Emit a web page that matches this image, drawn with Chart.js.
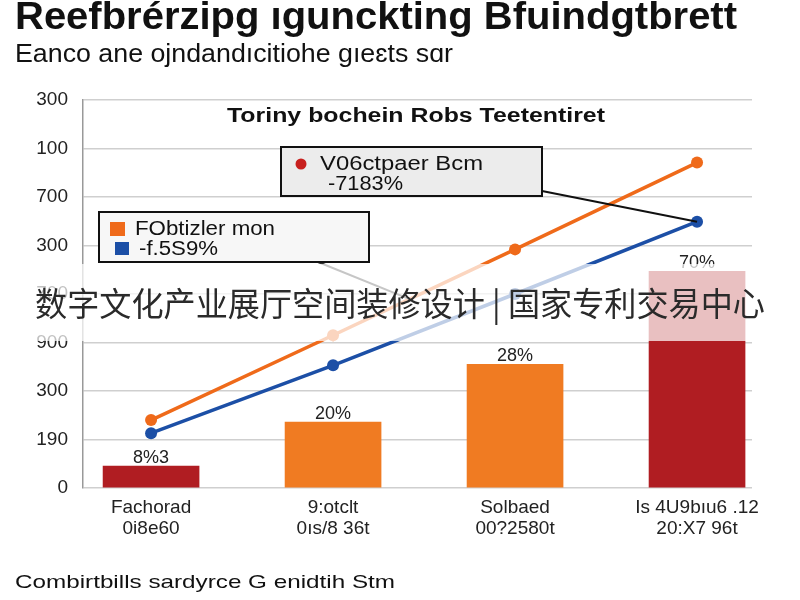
<!DOCTYPE html>
<html><head><meta charset="utf-8">
<script src="https://cdn.jsdelivr.net/npm/chart.js@4.4.0/dist/chart.umd.min.js"></script>
<style>html,body{margin:0;padding:0;background:#fff;}#wrap{width:800px;height:600px;position:relative;}</style>
</head><body><div id="wrap"><canvas id="c" width="800" height="600"></canvas></div>
<script>
const titleText = "Reefbrérzipg ıgunckting Bfuindgtbrett";
const subtitleText = "Eanco ane ojndandıcitiohe gıeɛts sɑr";
const innerTitle = "Toriny bochein Robs Teetentiret";
const captionText = "Combirtbills sardyrce G enidtih Stm";
const watermarkText = "数字文化产业展厅空间装修设计 | 国家专利交易中心";
const categories = [["Fachorad","0i8e60"],["9:otclt","0ıs/8 36t"],["Solbaed","00?2580t"],["Is 4U9bıu6 .12","20:X7 96t"]];
const barValues = [45, 136, 255, 447];
const barLabels = ["8%3","20%","28%","70%"];
const orangeValues = [140, 315, 492, 671];
const blueValues = [113, 253, 400, 549];
const yTickLabels = ['0','190','300','900','700','300','700','100','300'];
const box1Lines = ["FObtizler mon","-f.5S9%"];
const box2Lines = ["V06ctpaer Bcm","-7183%"];

const RED = '#b01d22', ORANGE_BAR = '#f07b22', ORANGE = '#ef6a1a', BLUE = '#1c4fa6';
const FONT = '"Liberation Sans", Arial, sans-serif';

const toXY = arr => arr.map((v, i) => ({x: i, y: v}));

// draw text stretched/compressed to an exact width (left aligned at x)
function fitText(ctx, text, x, y, width) {
  const w = ctx.measureText(text).width;
  ctx.save();
  ctx.textAlign = 'left';
  ctx.translate(x, y);
  ctx.scale(width / w, 1);
  ctx.fillText(text, 0, 0);
  ctx.restore();
}

const decor = {
  id: 'decor',
  afterDatasetsDraw(chart) {
    const ctx = chart.ctx;
    ctx.save();
    // bar labels
    const barMeta = chart.getDatasetMeta(2);
    ctx.font = '18px ' + FONT;
    ctx.fillStyle = '#222'; ctx.textAlign = 'center'; ctx.textBaseline = 'alphabetic';
    barMeta.data.forEach((el, i) => ctx.fillText(barLabels[i], el.x, el.y - 3));
    // connectors
    const bl = chart.getDatasetMeta(1).data[3];
    ctx.strokeStyle = '#111'; ctx.lineWidth = 2;
    ctx.beginPath(); ctx.moveTo(542, 191); ctx.lineTo(bl.x, bl.y); ctx.stroke();
    const om = chart.getDatasetMeta(0).data;
    const a = om[1], b = om[2];
    const tx = a.x + (b.x - a.x) * 0.42, ty = a.y + (b.y - a.y) * 0.42;
    ctx.strokeStyle = '#333';
    ctx.beginPath(); ctx.moveTo(318, 262); ctx.lineTo(tx, ty); ctx.stroke();
    // box 1
    ctx.fillStyle = '#f7f7f7'; ctx.fillRect(99, 212, 270, 50);
    ctx.strokeStyle = '#111'; ctx.lineWidth = 2; ctx.strokeRect(99, 212, 270, 50);
    ctx.fillStyle = ORANGE; ctx.fillRect(110, 222, 15, 14);
    ctx.fillStyle = BLUE; ctx.fillRect(115, 242, 14, 13);
    ctx.fillStyle = '#111'; ctx.textBaseline = 'middle';
    ctx.font = '20px ' + FONT;
    fitText(ctx, box1Lines[0], 135, 229, 140);
    fitText(ctx, box1Lines[1], 139, 249, 79);
    // box 2
    ctx.fillStyle = '#ececec'; ctx.fillRect(281, 147, 261, 49);
    ctx.strokeStyle = '#111'; ctx.strokeRect(281, 147, 261, 49);
    ctx.fillStyle = '#c8201e';
    ctx.beginPath(); ctx.arc(301, 164, 5.5, 0, Math.PI * 2); ctx.fill();
    ctx.fillStyle = '#111';
    fitText(ctx, box2Lines[0], 320, 164, 163);
    fitText(ctx, box2Lines[1], 328, 184, 75);
    ctx.restore();
  },
  afterDraw(chart) {
    const ctx = chart.ctx;
    ctx.save();
    // watermark band
    ctx.fillStyle = 'rgba(255,255,255,0.72)';
    ctx.fillRect(0, 264, 800, 77);
    ctx.fillStyle = '#2a2a2a'; ctx.textAlign = 'center'; ctx.textBaseline = 'middle';
    ctx.font = '33px "Noto Sans CJK SC", sans-serif';
    ctx.fillText(watermarkText, 400, 303, 730);
    // titles
    ctx.fillStyle = '#111';
    ctx.font = 'bold 38px ' + FONT;
    fitText(ctx, titleText, 15, 19, 722);
    ctx.font = '25px ' + FONT;
    fitText(ctx, subtitleText, 15, 55, 438);
    ctx.font = 'bold 20px ' + FONT;
    fitText(ctx, innerTitle, 227, 116, 378);
    ctx.font = '19px ' + FONT;
    fitText(ctx, captionText, 15, 583, 380);
    ctx.restore();
  }
};

new Chart(document.getElementById('c'), {
  type: 'bar',
  data: {
    datasets: [
      { type: 'line', label: 'orange', data: toXY(orangeValues), borderColor: ORANGE, backgroundColor: ORANGE,
        borderWidth: 3.5, pointRadius: 6, pointBackgroundColor: ORANGE, pointBorderWidth: 0, tension: 0, order: 0 },
      { type: 'line', label: 'blue', data: toXY(blueValues), borderColor: BLUE, backgroundColor: BLUE,
        borderWidth: 3.5, pointRadius: 6, pointBackgroundColor: BLUE, pointBorderWidth: 0, tension: 0, order: 0 },
      { type: 'bar', label: 'bars', data: toXY(barValues), backgroundColor: [RED, ORANGE_BAR, ORANGE_BAR, RED],
        barThickness: 96, order: 1 }
    ]
  },
  options: {
    responsive: false, animation: false,
    layout: { padding: { top: 100, right: 48, left: 0, bottom: 0 } },
    plugins: { legend: { display: false }, tooltip: { enabled: false } },
    scales: {
      x: {
        type: 'linear', min: -0.374, max: 3.302, offset: false,
        afterBuildTicks: s => { s.ticks = categories.map((_, i) => ({ value: i })); },
        afterFit: s => { s.height = 112; },
        grid: { display: false, drawTicks: false },
        border: { display: false },
        ticks: { callback: v => categories[v] || '', padding: 9, color: '#222', font: { size: 19, family: FONT, lineHeight: 1.1 }, maxRotation: 0, autoSkip: false }
      },
      y: {
        min: 0, max: 800,
        afterFit: s => { s.width = 83; },
        grid: { color: '#cfcfcf', lineWidth: 1.5, drawTicks: false },
        border: { color: '#999', width: 1.5 },
        ticks: { stepSize: 100, padding: 15, color: '#222', font: { size: 19, family: FONT },
          callback: (v, i) => yTickLabels[i] }
      }
    }
  },
  plugins: [decor]
});
</script></body></html>
